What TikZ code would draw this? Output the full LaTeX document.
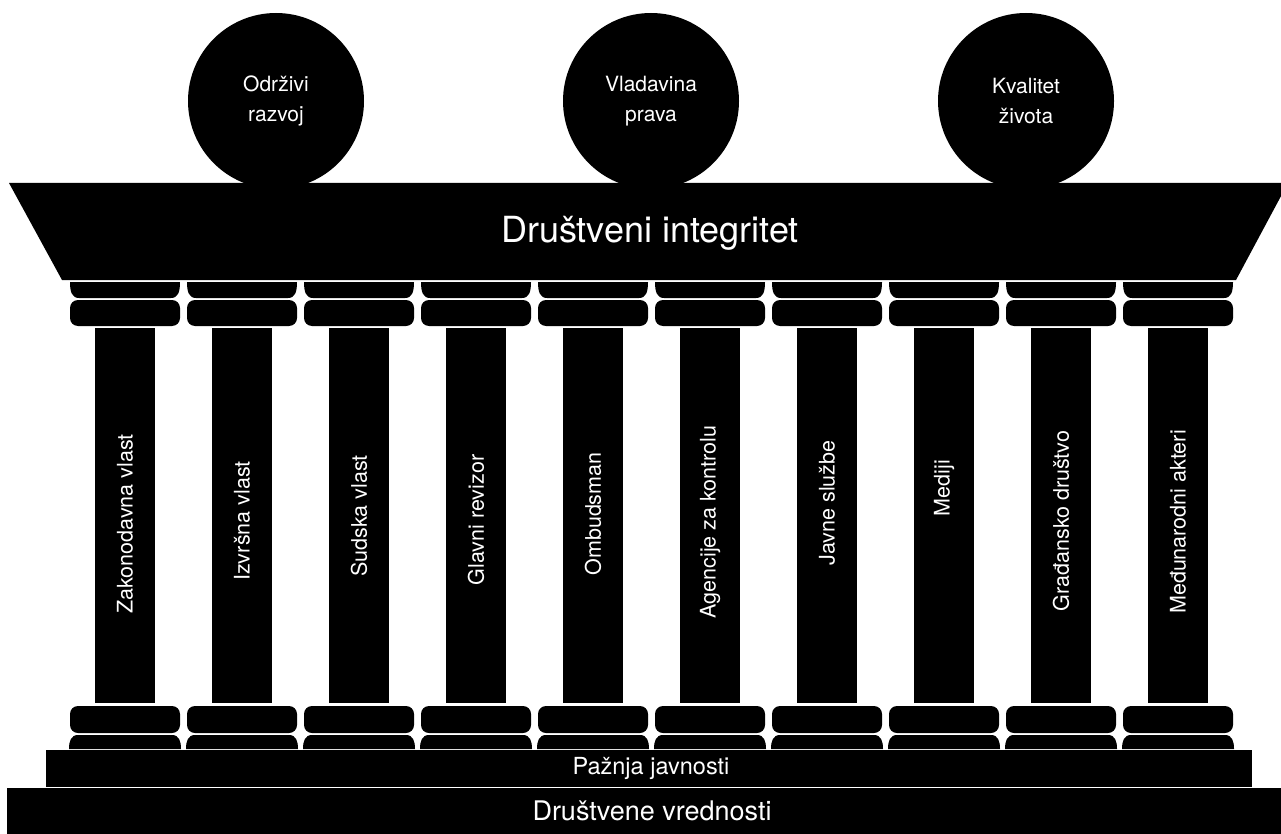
\documentclass[tikz,border=0pt]{standalone}
\usepackage{fontspec}
\setmainfont{TeX Gyre Heros}
\begin{document}
\begin{tikzpicture}[x=1pt,y=-1pt,
  lbl/.style={text=white,inner sep=0pt,align=center},
  ball/.style={fill=black},
  blk/.style={fill=black}]
\useasboundingbox (0,0) rectangle (1281,834);
\clip (0,0) rectangle (1281,834);
% circles
\foreach \cx/\nm/\txt in {276/c1/{Održivi\\razvoj},651/c2/{Vladavina\\prava},1026/c3/{Kvalitet\\života}}{
  \fill[ball] (\cx,101) circle[radius=88];
  \node[lbl,font=\fontsize{21}{30}\selectfont] (\nm) at (\cx,101) {\txt};
}
% entablature
\fill[blk] (9,183) -- (1288,183) -- (1236,280) -- (62,280) -- cycle;
\node[lbl,font=\fontsize{36}{40}\selectfont] (top) at (650,233) {Društveni integritet};
% columns
\foreach \lab/\ty [count=\i from 0] in {Zakonodavna vlast/524,Izvršna vlast/521,Sudska vlast/516,Glavni revizor/520,Ombudsman/514,Agencije za kontrolu/522,Javne službe/503,Mediji/488,Građansko društvo/521,Međunarodni akteri/522}{
  \pgfmathsetmacro\cx{125+117*\i}
  \fill[blk] ({\cx-55},282) -- ({\cx+55},282) .. controls ({\cx+55},292) and ({\cx+53},298) .. ({\cx+46},298) -- ({\cx-46},298) .. controls ({\cx-53},298) and ({\cx-55},292) .. ({\cx-55},282) -- cycle;
  \fill[blk,rounded corners=8pt] ({\cx-55},300) rectangle ({\cx+55},326);
  \fill[blk] ({\cx-30},328) rectangle ({\cx+30},703);
  \fill[blk,rounded corners=8pt] ({\cx-55},706) rectangle ({\cx+55},733);
  \fill[blk] ({\cx-47},735) -- ({\cx+47},735) .. controls ({\cx+54},735) and ({\cx+56},741) .. ({\cx+56},749) -- ({\cx-56},749) .. controls ({\cx-56},741) and ({\cx-54},735) .. ({\cx-47},735) -- cycle;
  \node[lbl,rotate=90,font=\fontsize{21.5}{24}\selectfont] (col\i) at (\cx,\ty) {\lab};
}
% steps
\fill[blk] (46,750) rectangle (1252,787);
\node[lbl,font=\fontsize{23.5}{26}\selectfont] (pj) at (651,768) {Pažnja javnosti};
\fill[blk] (7,788) rectangle (1295,840);
\node[lbl,font=\fontsize{27}{30}\selectfont] (dv) at (652,811) {Društvene vrednosti};
\end{tikzpicture}
\end{document}
